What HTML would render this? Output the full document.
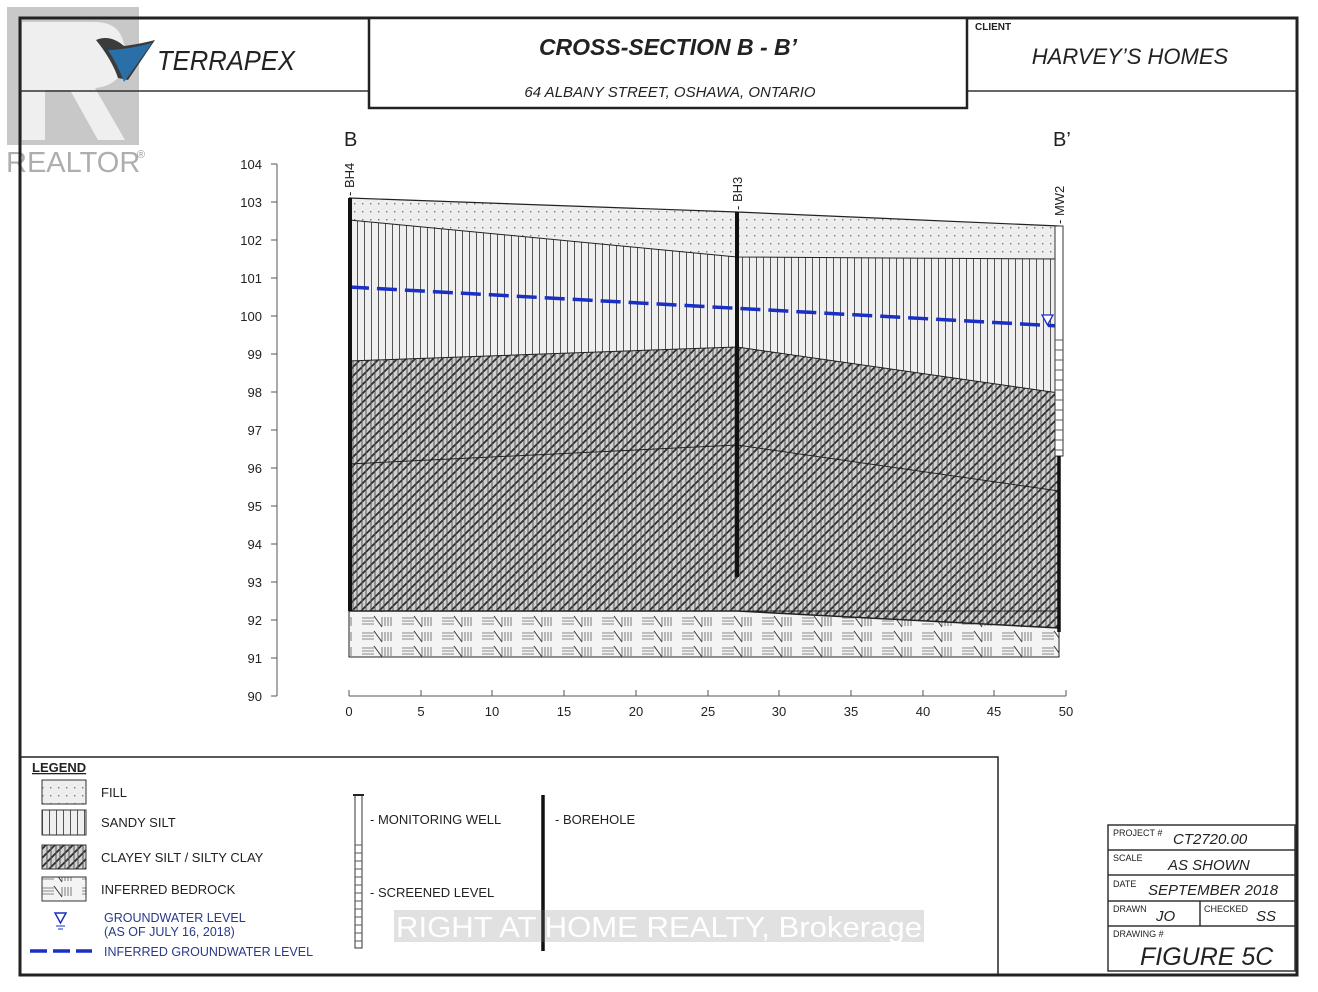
<!DOCTYPE html>
<html><head><meta charset="utf-8"><style>
html,body{margin:0;padding:0;background:#fff;width:1318px;height:992px;overflow:hidden}
svg{display:block}
text{font-family:"Liberation Sans",Arial,sans-serif}
</style></head><body>
<svg width="1318" height="992" viewBox="0 0 1318 992" xmlns="http://www.w3.org/2000/svg">
<defs>
<pattern id="dots" width="8" height="8" patternUnits="userSpaceOnUse">
<rect width="8" height="8" fill="#eeeeee"/><rect x="2" y="3" width="1.4" height="1.4" fill="#777"/>
</pattern>
<pattern id="vl" width="7" height="10" patternUnits="userSpaceOnUse">
<rect width="7" height="10" fill="#efefef"/><rect x="0" width="1" height="10" fill="#555"/>
</pattern>
<pattern id="clay" width="9" height="9" patternUnits="userSpaceOnUse">
<rect width="9" height="9" fill="#d0d0d0"/>
<path d="M0 9 L9 0 M-2 2 L2 -2 M7 11 L11 7" stroke="#2a2a2a" stroke-width="1.7"/>
<path d="M2 0 V9 M6 0 V9" stroke="#555" stroke-width="1"/>
</pattern>
<pattern id="rock" width="40" height="15" patternUnits="userSpaceOnUse">
<rect width="40" height="15" fill="#f4f4f4"/>
<path d="M2 3 H14 M2 6 H14 M2 9 H14" stroke="#888" stroke-width="1"/>
<path d="M22 2 V11 M25 2 V11 M28 2 V11 M31 2 V11" stroke="#777" stroke-width="1"/>
<path d="M14 1 L22 12" stroke="#333" stroke-width="1"/>
</pattern>
</defs>

<!-- REALTOR watermark -->
<rect x="7" y="7" width="132" height="138" fill="#9a9a9a" opacity="0.55"/>
<path d="M22 22 H95 Q125 22 125 55 Q125 85 95 88 L125 140 H98 L70 90 H45 V140 H22 Z" fill="#fff" opacity="0.7"/>
<text x="6" y="172" font-size="29" fill="#9a9a9a" opacity="0.8">REALTOR</text>
<text x="137" y="158" font-size="11" fill="#9a9a9a">®</text>

<!-- frame -->
<rect x="20" y="18" width="1277" height="957" fill="none" stroke="#222" stroke-width="3"/>
<line x1="20" y1="91" x2="368" y2="91" stroke="#333" stroke-width="1.5"/>
<line x1="967" y1="91" x2="1297" y2="91" stroke="#333" stroke-width="1.5"/>
<rect x="369" y="18" width="598" height="90" fill="#fff" stroke="#222" stroke-width="2.5"/>

<!-- logo -->
<path d="M96 40 Q110 34 124 46 Q140 44 155 40 L128 80 L118 78 Q112 60 96 40 Z" fill="#3b3b3b"/>
<path d="M108 50 Q125 50 152 43 L124 82 Q118 65 108 50 Z" fill="#2a6fa8"/>
<text x="157" y="70" font-size="28" font-style="italic" fill="#222" textLength="138" lengthAdjust="spacingAndGlyphs">TERRAPEX</text>

<text x="668" y="55" font-size="23" font-weight="bold" font-style="italic" text-anchor="middle" fill="#222">CROSS-SECTION B - B’</text>
<text x="670" y="97" font-size="15" font-style="italic" text-anchor="middle" fill="#222">64 ALBANY STREET, OSHAWA, ONTARIO</text>
<text x="975" y="30" font-size="10" font-weight="bold" fill="#222">CLIENT</text>
<text x="1130" y="64" font-size="22" font-style="italic" text-anchor="middle" fill="#222">HARVEY’S HOMES</text>

<!-- B labels -->
<text x="344" y="146" font-size="20" fill="#222">B</text>
<text x="1053" y="146" font-size="20" fill="#222">B’</text>

<!-- layers -->
<polygon points="349,198 737,212 1059,226 1059,259 737,257 349,220" fill="url(#dots)"/>
<polygon points="349,220 737,257 1059,259 1059,393 737,347 349,361" fill="url(#vl)"/>
<polygon points="349,361 737,347 1059,393 1059,628 737,611 349,611" fill="url(#clay)"/>
<polygon points="349,611 737,611 1059,628 1059,657 349,657" fill="url(#rock)"/>
<g fill="none" stroke="#222" stroke-width="1.2">
<polyline points="349,198 737,212 1059,226"/>
<polyline points="349,220 737,257 1059,259" stroke-width="1"/>
<polyline points="349,361 737,347 1059,393" stroke-width="1"/>
<polyline points="349,464 737,445 1059,491" stroke-width="1"/>
<polyline points="349,611 737,611 1059,628" stroke-width="1.5"/>
<rect x="349" y="611" width="710" height="46" stroke-width="1"/>
</g>
<line x1="349" y1="287" x2="1059" y2="326" stroke="#1a2fc4" stroke-width="3.5" stroke-dasharray="20,8"/>
<!-- boreholes -->
<line x1="350" y1="198" x2="350" y2="611" stroke="#111" stroke-width="4"/>
<line x1="737" y1="212" x2="737" y2="577" stroke="#111" stroke-width="4"/>
<rect x="1055" y="226" width="8" height="230" fill="#fff" stroke="#333" stroke-width="1"/>
<g stroke="#555" stroke-width="1">
<line x1="1055" y1="340" x2="1063" y2="340"/><line x1="1055" y1="350" x2="1063" y2="350"/><line x1="1055" y1="360" x2="1063" y2="360"/><line x1="1055" y1="370" x2="1063" y2="370"/><line x1="1055" y1="380" x2="1063" y2="380"/><line x1="1055" y1="390" x2="1063" y2="390"/><line x1="1055" y1="400" x2="1063" y2="400"/><line x1="1055" y1="410" x2="1063" y2="410"/><line x1="1055" y1="420" x2="1063" y2="420"/><line x1="1055" y1="430" x2="1063" y2="430"/><line x1="1055" y1="440" x2="1063" y2="440"/><line x1="1055" y1="450" x2="1063" y2="450"/>
</g>
<line x1="1059" y1="456" x2="1059" y2="632" stroke="#111" stroke-width="3.5"/>
<polygon points="1042,315 1053,315 1047.5,325" fill="#fff" stroke="#1a2fc4" stroke-width="1.3"/>
<!-- borehole labels -->
<text transform="translate(354,196) rotate(-90)" font-size="13" fill="#222">- BH4</text>
<text transform="translate(742,210) rotate(-90)" font-size="13" fill="#222">- BH3</text>
<text transform="translate(1064,224) rotate(-90)" font-size="13" fill="#222">- MW2</text>

<!-- y axis -->
<g stroke="#555" stroke-width="1">
<line x1="277" y1="164" x2="277" y2="696"/>
<line x1="271" y1="164" x2="277" y2="164"/><line x1="271" y1="202" x2="277" y2="202"/><line x1="271" y1="240" x2="277" y2="240"/><line x1="271" y1="278" x2="277" y2="278"/><line x1="271" y1="316" x2="277" y2="316"/><line x1="271" y1="354" x2="277" y2="354"/><line x1="271" y1="392" x2="277" y2="392"/><line x1="271" y1="430" x2="277" y2="430"/><line x1="271" y1="468" x2="277" y2="468"/><line x1="271" y1="506" x2="277" y2="506"/><line x1="271" y1="544" x2="277" y2="544"/><line x1="271" y1="582" x2="277" y2="582"/><line x1="271" y1="620" x2="277" y2="620"/><line x1="271" y1="658" x2="277" y2="658"/><line x1="271" y1="696" x2="277" y2="696"/>
</g>
<g font-size="13" fill="#222" text-anchor="end">
<text x="262" y="169">104</text><text x="262" y="207">103</text><text x="262" y="245">102</text><text x="262" y="283">101</text><text x="262" y="321">100</text><text x="262" y="359">99</text><text x="262" y="397">98</text><text x="262" y="435">97</text><text x="262" y="473">96</text><text x="262" y="511">95</text><text x="262" y="549">94</text><text x="262" y="587">93</text><text x="262" y="625">92</text><text x="262" y="663">91</text><text x="262" y="701">90</text>
</g>
<!-- x axis -->
<g stroke="#555" stroke-width="1">
<line x1="349" y1="696" x2="1066" y2="696"/>
<line x1="349" y1="690" x2="349" y2="696"/><line x1="421" y1="690" x2="421" y2="696"/><line x1="492" y1="690" x2="492" y2="696"/><line x1="564" y1="690" x2="564" y2="696"/><line x1="636" y1="690" x2="636" y2="696"/><line x1="708" y1="690" x2="708" y2="696"/><line x1="779" y1="690" x2="779" y2="696"/><line x1="851" y1="690" x2="851" y2="696"/><line x1="923" y1="690" x2="923" y2="696"/><line x1="994" y1="690" x2="994" y2="696"/><line x1="1066" y1="690" x2="1066" y2="696"/>
</g>
<g font-size="13" fill="#222" text-anchor="middle">
<text x="349" y="716">0</text><text x="421" y="716">5</text><text x="492" y="716">10</text><text x="564" y="716">15</text><text x="636" y="716">20</text><text x="708" y="716">25</text><text x="779" y="716">30</text><text x="851" y="716">35</text><text x="923" y="716">40</text><text x="994" y="716">45</text><text x="1066" y="716">50</text>
</g>

<!-- legend -->
<rect x="20" y="757" width="978" height="218" fill="none" stroke="#222" stroke-width="1.5"/>
<text x="32" y="772" font-size="13" font-weight="bold" fill="#222" text-decoration="underline">LEGEND</text>
<rect x="42" y="780" width="44" height="24" fill="url(#dots)" stroke="#333"/>
<rect x="42" y="810" width="44" height="25" fill="url(#vl)" stroke="#333"/>
<rect x="42" y="845" width="44" height="24" fill="url(#clay)" stroke="#333"/>
<rect x="42" y="877" width="44" height="24" fill="url(#rock)" stroke="#333"/>
<g font-size="13" fill="#222">
<text x="101" y="797">FILL</text>
<text x="101" y="827">SANDY SILT</text>
<text x="101" y="862">CLAYEY SILT / SILTY CLAY</text>
<text x="101" y="894">INFERRED BEDROCK</text>
<text x="370" y="824">- MONITORING WELL</text>
<text x="370" y="897">- SCREENED LEVEL</text>
<text x="555" y="824">- BOREHOLE</text>
</g>
<polygon points="55,913 66,913 60.5,923" fill="#fff" stroke="#1a2fc4" stroke-width="1.5"/>
<line x1="56" y1="926" x2="65" y2="926" stroke="#1a2fc4"/><line x1="58" y1="929" x2="63" y2="929" stroke="#1a2fc4"/>
<g font-size="12.5" fill="#2a3a8a">
<text x="104" y="922">GROUNDWATER LEVEL</text>
<text x="104" y="936">(AS OF JULY 16, 2018)</text>
<text x="104" y="956">INFERRED GROUNDWATER LEVEL</text>
</g>
<line x1="30" y1="951" x2="92" y2="951" stroke="#1a2fc4" stroke-width="3.5" stroke-dasharray="17,6"/>
<rect x="355" y="795" width="7" height="153" fill="#fff" stroke="#333"/>
<line x1="353" y1="795" x2="364" y2="795" stroke="#222" stroke-width="2"/>
<g stroke="#555"><line x1="355" y1="845" x2="362" y2="845"/><line x1="355" y1="853" x2="362" y2="853"/><line x1="355" y1="861" x2="362" y2="861"/><line x1="355" y1="869" x2="362" y2="869"/><line x1="355" y1="877" x2="362" y2="877"/><line x1="355" y1="885" x2="362" y2="885"/><line x1="355" y1="893" x2="362" y2="893"/><line x1="355" y1="901" x2="362" y2="901"/><line x1="355" y1="909" x2="362" y2="909"/><line x1="355" y1="917" x2="362" y2="917"/><line x1="355" y1="925" x2="362" y2="925"/><line x1="355" y1="933" x2="362" y2="933"/><line x1="355" y1="941" x2="362" y2="941"/></g>
<line x1="543" y1="795" x2="543" y2="951" stroke="#111" stroke-width="3.5"/>

<!-- title block -->
<g fill="none" stroke="#333" stroke-width="1.5">
<rect x="1108" y="825" width="187" height="146"/>
<line x1="1108" y1="850" x2="1295" y2="850"/>
<line x1="1108" y1="875" x2="1295" y2="875"/>
<line x1="1108" y1="901" x2="1295" y2="901"/>
<line x1="1108" y1="926" x2="1295" y2="926"/>
<line x1="1200" y1="901" x2="1200" y2="926"/>
</g>
<g fill="#222">
<text x="1113" y="836" font-size="9">PROJECT #</text>
<text x="1173" y="844" font-size="15" font-style="italic">CT2720.00</text>
<text x="1113" y="861" font-size="9">SCALE</text>
<text x="1168" y="870" font-size="15" font-style="italic">AS SHOWN</text>
<text x="1113" y="887" font-size="9">DATE</text>
<text x="1148" y="895" font-size="15" font-style="italic">SEPTEMBER 2018</text>
<text x="1113" y="912" font-size="9">DRAWN</text>
<text x="1156" y="921" font-size="15" font-style="italic">JO</text>
<text x="1204" y="912" font-size="9">CHECKED</text>
<text x="1256" y="921" font-size="15" font-style="italic">SS</text>
<text x="1113" y="937" font-size="9">DRAWING #</text>
<text x="1140" y="965" font-size="25" font-style="italic">FIGURE 5C</text>
</g>

<!-- brokerage watermark -->
<rect x="394" y="910" width="530" height="32" fill="#888" opacity="0.25"/>
<text x="396" y="937" font-size="29" fill="#fff" textLength="526" lengthAdjust="spacingAndGlyphs">RIGHT AT HOME REALTY, Brokerage</text>
</svg>
</body></html>
